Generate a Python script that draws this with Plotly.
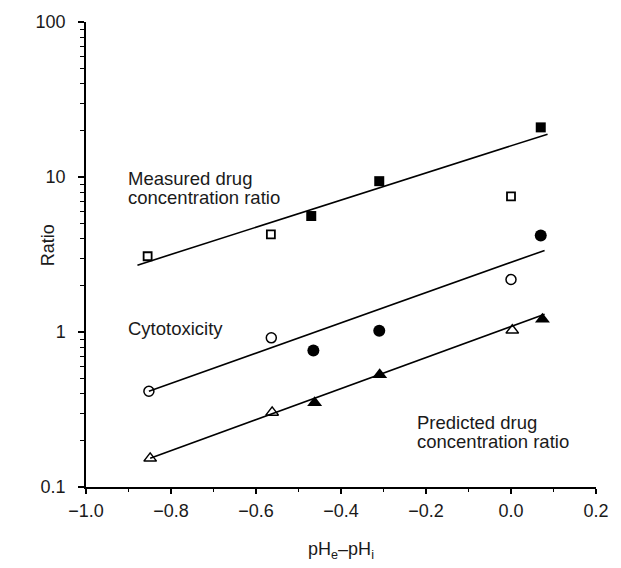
import plotly.graph_objects as go
import math

# ---------------- data ----------------
measured_filled_x = [-0.47, -0.31, 0.07]
measured_filled_y = [5.6, 9.4, 20.9]
measured_open_x = [-0.855, -0.565, 0.0]
measured_open_y = [3.08, 4.27, 7.5]

cyto_filled_x = [-0.465, -0.31, 0.07]
cyto_filled_y = [0.76, 1.02, 4.2]
cyto_open_x = [-0.852, -0.564, 0.0]
cyto_open_y = [0.415, 0.917, 2.18]

pred_filled_x = [-0.462, -0.309, 0.074]
pred_filled_y = [0.35, 0.53, 1.21]
pred_open_x = [-0.849, -0.562, 0.003]
pred_open_y = [0.153, 0.303, 1.025]

fit_measured_x = [-0.879, 0.086]
fit_measured_y = [2.70, 18.9]
fit_cyto_x = [-0.852, 0.079]
fit_cyto_y = [0.415, 3.36]
fit_pred_x = [-0.849, 0.079]
fit_pred_y = [0.153, 1.30]

x_tick_vals = [-1.0, -0.8, -0.6, -0.4, -0.2, 0.0, 0.2]
y_tick_vals = [0.1, 1, 10, 100]
y_tick_text = ["0.1", "1", "10", "100"]

label_measured = ["Measured drug", "concentration ratio"]
label_cyto = ["Cytotoxicity"]
label_pred = ["Predicted drug", "concentration ratio"]
x_title = "pH<sub>e</sub>–pH<sub>i</sub>"
y_title = "Ratio"

# ---------------- figure ----------------
FONT = "Arial, Liberation Sans, sans-serif"
TXT = "#1a1a1a"
fig = go.Figure()

for fx, fy in [(fit_measured_x, fit_measured_y), (fit_cyto_x, fit_cyto_y), (fit_pred_x, fit_pred_y)]:
    fig.add_trace(go.Scatter(x=fx, y=fy, mode="lines",
                             line=dict(color="black", width=1.6), showlegend=False, hoverinfo="skip"))

def pts(x, y, symbol, size, lw=0):
    fig.add_trace(go.Scatter(x=x, y=y, mode="markers", showlegend=False,
                             marker=dict(symbol=symbol, size=size, color="black",
                                         line=dict(color="black", width=lw))))

pts(measured_filled_x, measured_filled_y, "square", 10)
pts(measured_open_x, measured_open_y, "square-open", 8, 1.8)
pts(cyto_filled_x, cyto_filled_y, "circle", 12)
pts(cyto_open_x, cyto_open_y, "circle-open", 10, 1.5)
pts(pred_filled_x, pred_filled_y, "triangle-up", 13)
pts(pred_open_x, pred_open_y, "triangle-up-open", 11, 1.5)

def add_label(x, yval, text):
    fig.add_annotation(x=x, y=math.log10(yval), xref="x", yref="y", text=text,
                       showarrow=False, xanchor="left", yanchor="middle",
                       font=dict(family=FONT, size=18.5, color=TXT))

# annotation positions (layout)
add_label(-0.907, 9.8, label_measured[0])
add_label(-0.907, 7.4, label_measured[1])
add_label(-0.907, 1.06, label_cyto[0])
add_label(-0.226, 0.262, label_pred[0])
add_label(-0.226, 0.197, label_pred[1])

# y-axis title as a rotated annotation
fig.add_annotation(x=0, y=0.52, xref="paper", yref="paper", text=y_title, textangle=-90,
                   showarrow=False, xanchor="center", yanchor="middle", xshift=-38,
                   font=dict(family=FONT, size=18, color=TXT))

minor_y = [m * 10 ** d for d in (-1, 0, 1) for m in range(2, 10)]

fig.update_xaxes(range=[-1.0, 0.2], tickvals=x_tick_vals, tickformat=".1f",
                 showline=True, linecolor="black", linewidth=1.5,
                 ticks="outside", ticklen=5, tickwidth=1.5, tickcolor="black",
                 showgrid=False, zeroline=False, ticklabelstandoff=2,
                 minor=dict(dtick=0.1, ticks="outside", ticklen=3, tickwidth=1.2, tickcolor="black", showgrid=False),
                 tickfont=dict(family=FONT, size=18, color=TXT),
                 title=dict(text=x_title, font=dict(family=FONT, size=18, color=TXT), standoff=22))
fig.update_yaxes(type="log", range=[-1, 2], tickvals=y_tick_vals, ticktext=y_tick_text,
                 showline=True, linecolor="black", linewidth=1.5,
                 ticks="outside", ticklen=6, tickwidth=1.5, tickcolor="black",
                 showgrid=False, zeroline=False, ticklabelstandoff=9,
                 minor=dict(tickvals=minor_y, ticks="outside", ticklen=4, tickwidth=1.2, tickcolor="black", showgrid=False),
                 tickfont=dict(family=FONT, size=18, color=TXT))

fig.update_layout(width=621, height=568, margin=dict(l=86, r=17, t=20, b=69),
                  plot_bgcolor="white", paper_bgcolor="white", showlegend=False)

# remove the default page margin / scrollbars so the figure fills the window exactly
fig.write_html("out.html",
               config={"displayModeBar": False, "responsive": False},
               post_script="document.body.style.margin='0';document.body.style.overflow='hidden';"
                           "document.documentElement.style.overflow='hidden';")
